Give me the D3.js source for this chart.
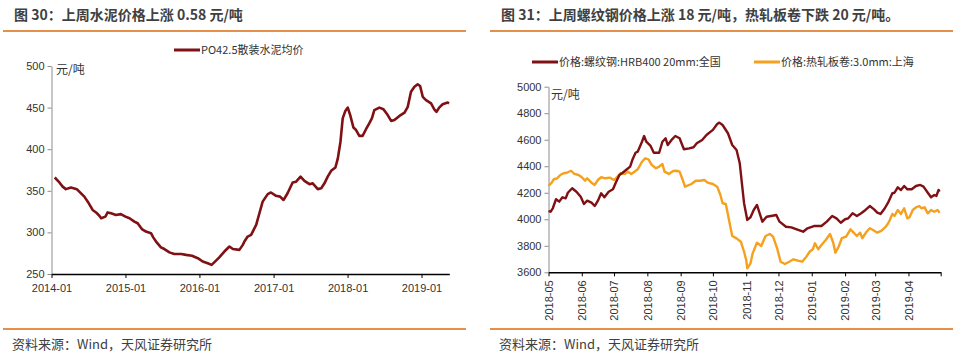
<!DOCTYPE html>
<html>
<head>
<meta charset="utf-8">
<script src="https://cdn.jsdelivr.net/npm/d3@7"></script>
<style>
  body { margin: 0; background: #fff; }
  text { font-family: "Liberation Sans", Arial, sans-serif; fill: #333; }
  .cjk { font-family: "Noto Sans CJK SC", sans-serif; }
</style>
</head>
<body>
<script>
// ---- data: chart 30, cement price (元/吨)
var cementDates = ["2014-01-17","2014-02-09","2014-02-25","2014-03-13","2014-04-07","2014-05-06","2014-05-18","2014-06-12","2014-07-04","2014-07-23","2014-08-09","2014-08-25","2014-09-03","2014-09-24","2014-10-05","2014-10-22","2014-11-15","2014-12-09",
  "2015-01-01","2015-01-21","2015-02-14","2015-03-02","2015-03-23","2015-04-12","2015-05-07","2015-05-18","2015-06-01","2015-06-25","2015-07-12","2015-08-06","2015-08-30","2015-10-03","2015-10-27","2015-11-25","2015-12-24",
  "2016-01-17","2016-02-11","2016-03-01","2016-03-14","2016-04-08","2016-05-03","2016-05-28","2016-06-14","2016-07-16","2016-08-02","2016-08-10","2016-08-26","2016-09-12","2016-10-07","2016-10-23","2016-11-08","2016-12-03","2016-12-19",
  "2017-01-13","2017-02-02","2017-02-19","2017-03-11","2017-04-05","2017-04-22","2017-05-14","2017-06-02","2017-06-27","2017-07-13","2017-08-07","2017-08-24","2017-09-09","2017-09-25","2017-10-12","2017-11-02","2017-11-14","2017-11-27","2017-12-08","2017-12-21",
  "2018-01-02","2018-01-14","2018-01-30","2018-02-12","2018-02-28","2018-03-16","2018-04-02","2018-04-18","2018-05-01","2018-05-13","2018-06-07","2018-06-27","2018-07-18","2018-08-04","2018-08-20","2018-09-14","2018-10-09","2018-10-25","2018-11-10","2018-11-27","2018-12-13","2018-12-25",
  "2019-01-07","2019-01-23","2019-02-17","2019-03-05","2019-03-16","2019-03-29","2019-04-15","2019-05-10","2019-05-17"];
var cementValues = [366,360,355,352,354,352,349,343,335,327,324,320,317,319,324,323,321,322,
  319,317,313,311,304,301,299,294,289,282,280,276,274,274,273,272,269,
  265,263,261,264,270,277,283,280,279,285,289,295,297,309,323,337,346,348,
  344,343,339,347,360,361,367,362,358,359,352,353,359,367,374,378,389,409,437,446,
  450,441,426,423,416,416,424,431,437,447,450,448,441,434,435,440,444,451,469,475,478,476,
  463,459,455,448,445,450,454,456,455];
var cementTicks = ["2014-01-01","2015-01-01","2016-01-01","2017-01-01","2018-01-01","2019-01-01"];
var cementYTicks = [250,300,350,400,450,500];

// ---- data: chart 31, rebar and hot-rolled coil (元/吨)
var rebarDates = ["2018-05-01","2018-05-03","2018-05-05","2018-05-08","2018-05-11","2018-05-14","2018-05-17","2018-05-19","2018-05-23","2018-05-27","2018-05-31",
  "2018-06-03","2018-06-06","2018-06-10","2018-06-13","2018-06-16","2018-06-19","2018-06-22","2018-06-26","2018-06-30",
  "2018-07-03","2018-07-06","2018-07-09","2018-07-13","2018-07-16","2018-07-18","2018-07-21","2018-07-23","2018-07-27","2018-07-29","2018-07-31",
  "2018-08-04","2018-08-07","2018-08-12","2018-08-15","2018-08-18","2018-08-20","2018-08-24","2018-08-27","2018-08-31",
  "2018-09-04","2018-09-09","2018-09-13","2018-09-16","2018-09-21","2018-09-25","2018-10-01","2018-10-05","2018-10-07","2018-10-10","2018-10-15","2018-10-19","2018-10-23","2018-10-26","2018-10-28","2018-10-30",
  "2018-11-02","2018-11-05","2018-11-08","2018-11-11","2018-11-13","2018-11-16","2018-11-20","2018-11-24","2018-11-29",
  "2018-12-02","2018-12-08","2018-12-13","2018-12-18","2018-12-24","2018-12-28",
  "2019-01-03","2019-01-08","2019-01-10","2019-01-15","2019-01-20","2019-01-24","2019-01-28",
  "2019-02-01","2019-02-04","2019-02-08","2019-02-12","2019-02-16","2019-02-20","2019-02-24","2019-02-28",
  "2019-03-03","2019-03-06","2019-03-10","2019-03-13","2019-03-17","2019-03-19","2019-03-22","2019-03-25","2019-03-28","2019-03-31",
  "2019-04-04","2019-04-08","2019-04-12","2019-04-15","2019-04-19","2019-04-22","2019-04-25","2019-04-27","2019-04-29","2019-04-30"];
var rebarValues = [4062,4057,4083,4151,4133,4166,4158,4200,4234,4208,4170,
  4115,4140,4125,4100,4140,4196,4166,4208,4226,
  4283,4334,4351,4377,4397,4447,4502,4510,4585,4628,4585,
  4553,4502,4502,4585,4611,4560,4603,4628,4611,
  4528,4535,4543,4573,4598,4636,4674,4719,4729,4711,4649,4560,4523,4422,4271,4121,
  3995,4015,4070,4108,4057,3982,4019,4025,4032,
  3982,3944,3939,3924,3906,3932,
  3949,3949,3949,3982,4025,4007,3974,
  4000,4007,4045,4025,4045,4070,4100,4075,
  4050,4040,4083,4125,4196,4200,4241,4221,4251,4226,
  4226,4251,4259,4246,4200,4166,4183,4176,4221,4208];

var hrcDates = ["2018-05-01","2018-05-04","2018-05-06","2018-05-09","2018-05-12","2018-05-15","2018-05-18","2018-05-22","2018-05-25","2018-05-29",
  "2018-06-01","2018-06-04","2018-06-06","2018-06-10","2018-06-13","2018-06-16","2018-06-19","2018-06-23","2018-06-27",
  "2018-07-01","2018-07-04","2018-07-07","2018-07-11","2018-07-14","2018-07-17","2018-07-20","2018-07-23","2018-07-27","2018-07-30",
  "2018-08-02","2018-08-05","2018-08-09","2018-08-12","2018-08-15","2018-08-17","2018-08-21","2018-08-25","2018-08-28","2018-08-31",
  "2018-09-03","2018-09-05","2018-09-11","2018-09-15","2018-09-19","2018-09-23","2018-09-26",
  "2018-10-01","2018-10-05","2018-10-08","2018-10-10","2018-10-13","2018-10-16","2018-10-19","2018-10-23","2018-10-27","2018-10-30",
  "2018-11-01","2018-11-02","2018-11-05","2018-11-07","2018-11-11","2018-11-15","2018-11-19","2018-11-23","2018-11-26","2018-11-30",
  "2018-12-03","2018-12-07","2018-12-11","2018-12-15","2018-12-19","2018-12-23","2018-12-27","2018-12-30",
  "2019-01-02","2019-01-04","2019-01-07","2019-01-10","2019-01-14","2019-01-18","2019-01-21","2019-01-23","2019-01-26","2019-01-29",
  "2019-02-02","2019-02-06","2019-02-09","2019-02-12","2019-02-15","2019-02-17","2019-02-21","2019-02-24","2019-02-27",
  "2019-03-03","2019-03-07","2019-03-11","2019-03-14","2019-03-17","2019-03-19","2019-03-22","2019-03-25","2019-03-28","2019-03-31",
  "2019-04-02","2019-04-05","2019-04-08","2019-04-11","2019-04-13","2019-04-16","2019-04-19","2019-04-22","2019-04-25","2019-04-28","2019-04-30"];
var hrcValues = [4251,4276,4302,4309,4334,4347,4351,4366,4342,4334,
  4317,4291,4309,4276,4259,4296,4317,4309,4314,
  4296,4321,4347,4342,4359,4342,4359,4377,4434,4460,
  4452,4410,4385,4397,4417,4359,4342,4364,4366,4359,
  4296,4246,4266,4291,4291,4296,4276,
  4266,4246,4183,4121,4115,3995,3874,3856,3831,3755,
  3693,3630,3668,3743,3823,3798,3874,3889,3869,3774,
  3680,3663,3680,3698,3688,3680,3718,3755,
  3774,3819,3774,3806,3844,3889,3823,3748,3793,3857,
  3869,3924,3899,3874,3899,3857,3906,3932,3919,
  3899,3914,3944,3982,4040,4025,4070,4040,4083,4007,
  4015,4070,4090,4100,4083,4090,4045,4070,4057,4070,4050];
var steelTicks = ["2018-05-01","2018-06-01","2018-07-01","2018-08-01","2018-09-01","2018-10-01","2018-11-01","2018-12-01",
  "2019-01-01","2019-02-01","2019-03-01","2019-04-01","2019-05-01"];
var steelYTicks = [3600,3800,4000,4200,4400,4600,4800,5000];

var darkRed = "#7f1014";
var orange = "#f5a01e";
var ruleColor = "#e4904a";

var parse = d3.timeParse("%Y-%m-%d");
var svg = d3.select("body").append("svg").attr("width", 969).attr("height", 362);

// headers, rules, footers for both panels
function panelFrame(x0, x1, title) {
  svg.append("text").attr("class", "cjk").attr("x", x0 + 11).attr("y", 20)
    .style("font-size", "14px").style("font-weight", "bold").style("fill", "#404040").text(title);
  svg.append("line").attr("x1", x0).attr("x2", x1).attr("y1", 31).attr("y2", 31)
    .attr("stroke", ruleColor).attr("stroke-width", 2);
  svg.append("line").attr("x1", x0).attr("x2", x1).attr("y1", 329).attr("y2", 329)
    .attr("stroke", ruleColor).attr("stroke-width", 2);
  svg.append("text").attr("class", "cjk").attr("x", x0 + 9).attr("y", 349)
    .style("font-size", "13px").style("fill", "#404040").text("资料来源：Wind，天风证券研究所");
}
panelFrame(3, 466, "图 30：上周水泥价格上涨 0.58 元/吨");
panelFrame(490, 953, "图 31：上周螺纹钢价格上涨 18 元/吨，热轧板卷下跌 20 元/吨。");

function legendItem(x, y, color, label) {
  svg.append("line").attr("x1", x).attr("x2", x + 26).attr("y1", y).attr("y2", y)
    .attr("stroke", color).attr("stroke-width", 3);
  svg.append("text").attr("class", "cjk").attr("x", x + 27).attr("y", y + 4)
    .style("font-size", "11px").text(label);
}

// ---- chart 30
var x1 = d3.scaleTime().domain([parse("2014-01-01"), parse("2019-05-18")]).range([51.5, 449.3]);
var y1 = d3.scaleLinear().domain([250, 500]).range([274, 66]);

var gy1 = svg.append("g").attr("transform", "translate(51.5,0)")
  .call(d3.axisLeft(y1).tickValues(cementYTicks).tickSize(4).tickSizeOuter(0).tickPadding(3));
gy1.select(".domain").attr("stroke", "#8c8c8c");
gy1.selectAll(".tick line").attr("stroke", "#8c8c8c");
gy1.selectAll("text").style("font-size", "11px").style("fill", "#333");

var gx1 = svg.append("g").attr("transform", "translate(0,274)")
  .call(d3.axisBottom(x1).tickValues(cementTicks.map(parse)).tickFormat(d3.timeFormat("%Y-%m"))
    .tickSize(4).tickSizeOuter(0).tickPadding(6));
gx1.select(".domain").attr("stroke", "#000").attr("stroke-width", 1.5);
gx1.selectAll("text").style("font-size", "11px").style("fill", "#333");

svg.append("text").attr("class", "cjk").attr("x", 56).attr("y", 74).style("font-size", "12px").text("元/吨");

var line1 = d3.line().x(function (d, i) { return x1(parse(cementDates[i])); }).y(function (d) { return y1(d); });
svg.append("path").datum(cementValues).attr("d", line1)
  .attr("fill", "none").attr("stroke", darkRed).attr("stroke-width", 2.6).attr("stroke-linejoin", "round");

legendItem(174, 50, darkRed, "PO42.5散装水泥均价");

// ---- chart 31
var x2 = d3.scaleTime().domain([parse("2018-05-01"), parse("2019-05-01")]).range([548.5, 940.7]);
var y2 = d3.scaleLinear().domain([3600, 5000]).range([272.3, 86.7]);

var gy2 = svg.append("g").attr("transform", "translate(548.5,0)")
  .call(d3.axisLeft(y2).tickValues(steelYTicks).tickFormat(d3.format("d"))
    .tickSize(4).tickSizeOuter(0).tickPadding(3));
gy2.select(".domain").attr("stroke", "#8c8c8c");
gy2.selectAll(".tick line").attr("stroke", "#8c8c8c");
gy2.selectAll("text").style("font-size", "11px").style("fill", "#333");

var gx2 = svg.append("g").attr("transform", "translate(0,272.3)")
  .call(d3.axisBottom(x2).tickValues(steelTicks.map(parse))
    .tickFormat(function (d, i) { return i < steelTicks.length - 1 ? d3.timeFormat("%Y-%m")(d) : ""; })
    .tickSize(4).tickSizeOuter(0));
gx2.select(".domain").attr("stroke", "#000").attr("stroke-width", 1.5);
gx2.selectAll("text").style("font-size", "11px").style("fill", "#333")
  .attr("transform", "rotate(-90)").attr("x", -8).attr("y", 0).attr("dy", "0.35em")
  .style("text-anchor", "end");

svg.append("text").attr("class", "cjk").attr("x", 551).attr("y", 99).style("font-size", "12px").text("元/吨");

var line2 = d3.line().x(function (d, i) { return x2(parse(hrcDates[i])); }).y(function (d) { return y2(d); });
svg.append("path").datum(hrcValues).attr("d", line2)
  .attr("fill", "none").attr("stroke", orange).attr("stroke-width", 2.4).attr("stroke-linejoin", "round");

var line3 = d3.line().x(function (d, i) { return x2(parse(rebarDates[i])); }).y(function (d) { return y2(d); });
svg.append("path").datum(rebarValues).attr("d", line3)
  .attr("fill", "none").attr("stroke", darkRed).attr("stroke-width", 2.4).attr("stroke-linejoin", "round");

legendItem(532, 62, darkRed, "价格:螺纹钢:HRB400 20mm:全国");
legendItem(754, 62, orange, "价格:热轧板卷:3.0mm:上海");
</script>
</body>
</html>
